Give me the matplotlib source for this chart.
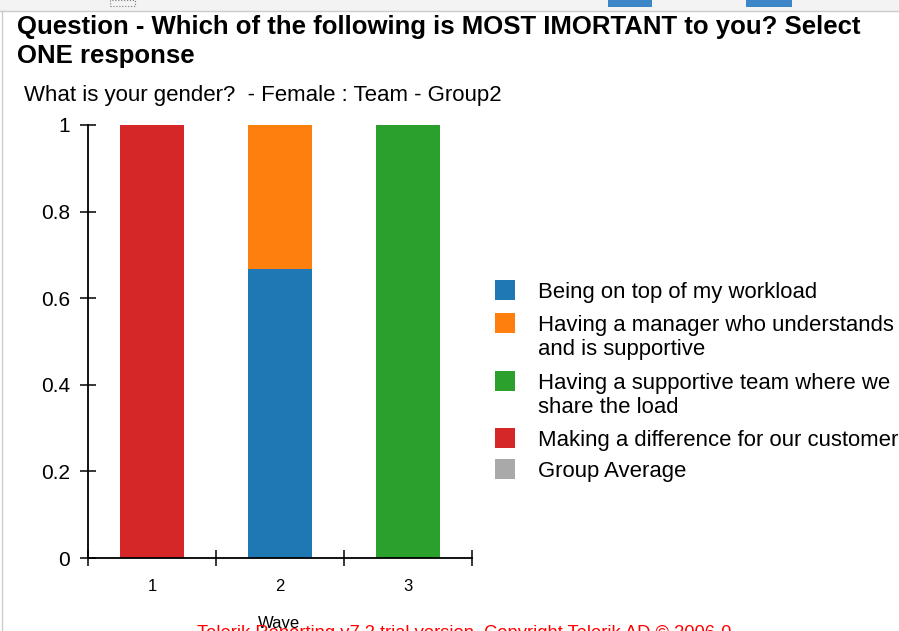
import matplotlib
matplotlib.use("Agg")
import matplotlib.pyplot as plt
from matplotlib import font_manager
from matplotlib.patches import Rectangle

waves = [1, 2, 3]
series = [
    "Being on top of my workload",
    "Having a manager who understands\nand is supportive",
    "Having a supportive team where we\nshare the load",
    "Making a difference for our customer",
    "Group Average",
]
colors = ["#1f77b4", "#ff7f0e", "#2ca02c", "#d62728", "#a9a9a9"]
values = [
    [0, 0.667, 0],   # workload
    [0, 0.333, 0],   # manager
    [0, 0, 1],       # team
    [1, 0, 0],       # customer
    [0, 0, 0],       # group average
]
y_ticks = [0, 0.2, 0.4, 0.6, 0.8, 1]
y_labels = ["0", "0.2", "0.4", "0.6", "0.8", "1"]

title = "Question - Which of the following is MOST IMORTANT to you? Select\nONE response"
subtitle = "What is your gender?  - Female : Team - Group2"
watermark = "Telerik Reporting v7.2 trial version. Copyright Telerik AD \u00a9 2006-0"

names = {f.name for f in font_manager.fontManager.ttflist}
narrow = "Liberation Sans Narrow" if "Liberation Sans Narrow" in names else "Liberation Sans"
plt.rcParams["font.family"] = ["Liberation Sans", "DejaVu Sans"]

W, H = 899, 631
fig = plt.figure(figsize=(W / 100, H / 100), dpi=100)


def px(x, y):
    return x / W, 1 - y / H


# browser-ish frame at the top
fig.patches.append(Rectangle((0, 1 - 11 / H), 1, 11 / H, transform=fig.transFigure,
                             facecolor="#f3f3f3", edgecolor="none"))
fig.add_artist(plt.Line2D([0, 1], [1 - 11 / H] * 2, color="#cccccc", lw=1))
fig.add_artist(plt.Line2D([2 / W] * 2, [0, 1 - 11 / H], color="#cccccc", lw=1))
for x0, x1 in [(608, 652), (746, 792)]:
    fig.patches.append(Rectangle((x0 / W, 1 - 7 / H), (x1 - x0) / W, 7 / H,
                                 transform=fig.transFigure, facecolor="#3d87c8", edgecolor="none"))
fig.patches.append(Rectangle((110 / W, 1 - 6 / H), 25 / W, 6 / H, transform=fig.transFigure,
                             facecolor="none", edgecolor="#777777", lw=0.8, ls=":"))

fig.text(*px(17, 15), title, family=narrow, fontweight="bold", fontsize=18.5,
         va="top", ha="left", linespacing=1.28)
fig.text(*px(24, 95), subtitle, fontsize=16, va="center", ha="left")

ax = fig.add_axes([88 / W, (H - 558) / H, 384 / W, 433 / H])
bottom = [0, 0, 0]
for vals, col in zip(values, colors):
    ax.bar(waves, vals, width=0.5, bottom=bottom, color=col, linewidth=0)
    bottom = [b + v for b, v in zip(bottom, vals)]

ax.set_xlim(0.5, 3.5)
ax.set_ylim(0, 1)
ax.spines[["top", "right"]].set_visible(False)
ax.spines["left"].set_linewidth(1.3)
ax.spines["bottom"].set_linewidth(1.3)
ax.set_yticks(y_ticks, y_labels, fontsize=15)
ax.tick_params(axis="y", direction="inout", length=11.5, width=1.1, pad=7)
ax.set_xticks([0.5, 1.5, 2.5, 3.5], ["", "", "", ""])
ax.tick_params(axis="x", which="major", direction="inout", length=11.5, width=1.1)
ax.set_xticks(waves, [str(w) for w in waves], minor=True)
ax.tick_params(axis="x", which="minor", length=0, labelsize=12, pad=15)

fig.text(*px(258, 631), "Wave", fontsize=12, va="bottom", ha="left")
fig.text(*px(197, 625), watermark, fontsize=13.2, color="red", va="top", ha="left")

# legend drawn by hand to keep the square/text layout
legend_y = [290, 323, 381, 438, 469]
for name, col, ly in zip(series, colors, legend_y):
    fig.patches.append(Rectangle((495 / W, 1 - (ly + 10) / H), 20 / W, 20 / H,
                                 transform=fig.transFigure, facecolor=col, edgecolor="none"))
    fig.text(*px(538, ly - 8), name, fontsize=15.9, va="top", ha="left", linespacing=1.2)

fig.savefig("out.png", dpi=100)
